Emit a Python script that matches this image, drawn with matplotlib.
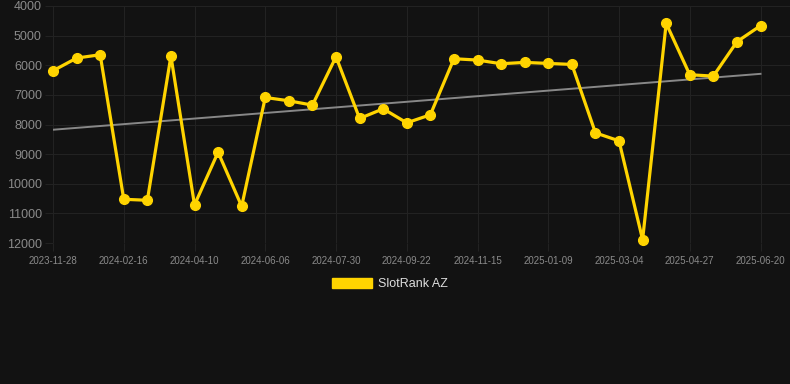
import numpy as np
import matplotlib
matplotlib.use('Agg')
import matplotlib.pyplot as plt
from matplotlib.patches import Patch

# rank values, one point per period
ranks = [6186, 5758, 5645, 10524, 10558, 5690, 10715, 8935, 10760, 7087,
         7200, 7346, 5713, 7797, 7470, 7944, 7673, 5780, 5825, 5949,
         5904, 5938, 5972, 8282, 8552, 11887, 4586, 6321, 6366, 5206, 4665]

# only every third date is labelled on the axis
tick_labels = ['2023-11-28', '2024-02-16', '2024-04-10', '2024-06-06',
               '2024-07-30', '2024-09-22', '2024-11-15', '2025-01-09',
               '2025-03-04', '2025-04-27', '2025-06-20']
series_name = 'SlotRank AZ'

bg = '#121212'
gold = '#FFD400'
grid_col = '#222222'
text_col = '#8a8a8a'

plt.rcParams['font.family'] = ['Liberation Sans', 'DejaVu Sans']

fig = plt.figure(figsize=(7.9, 3.84), dpi=100, facecolor=bg)
ax = fig.add_axes([53 / 790, 1 - 243 / 384, 1 - 53 / 790, (243 - 6) / 384])
ax.set_facecolor(bg)

x = np.arange(len(ranks))

# linear trend over the series
k, b = np.polyfit(x, ranks, 1)
ax.plot(x, k * x + b, color='#888888', lw=1.4, zorder=2)

ax.plot(x, ranks, color=gold, lw=2.3, marker='o', markersize=7,
        solid_joinstyle='miter', zorder=3, clip_on=False)

ax.set_ylim(12000, 4000)
ax.set_yticks(range(4000, 12001, 1000))
ax.set_xlim(0, 31.25)
ax.set_xticks(x[::3])
ax.set_xticklabels(tick_labels)

ax.grid(True, color=grid_col, lw=0.8)
ax.set_axisbelow(True)
for s in ax.spines.values():
    s.set_visible(False)

ax.tick_params(axis='y', colors=grid_col, length=6, width=0.8, pad=2,
               labelcolor=text_col, labelsize=9)
ax.tick_params(axis='x', colors=grid_col, length=6, width=0.8, pad=3,
               labelcolor=text_col, labelsize=7)

handle = Patch(facecolor=gold, edgecolor=gold)
fig.legend([handle], [series_name], loc='center', bbox_to_anchor=(390 / 790, 1 - 284 / 384),
           frameon=False, handlelength=3.2, handleheight=0.95, handletextpad=0.55,
           labelcolor='#dddddd', fontsize=9)

fig.savefig('out.png', dpi=100, facecolor=bg)
